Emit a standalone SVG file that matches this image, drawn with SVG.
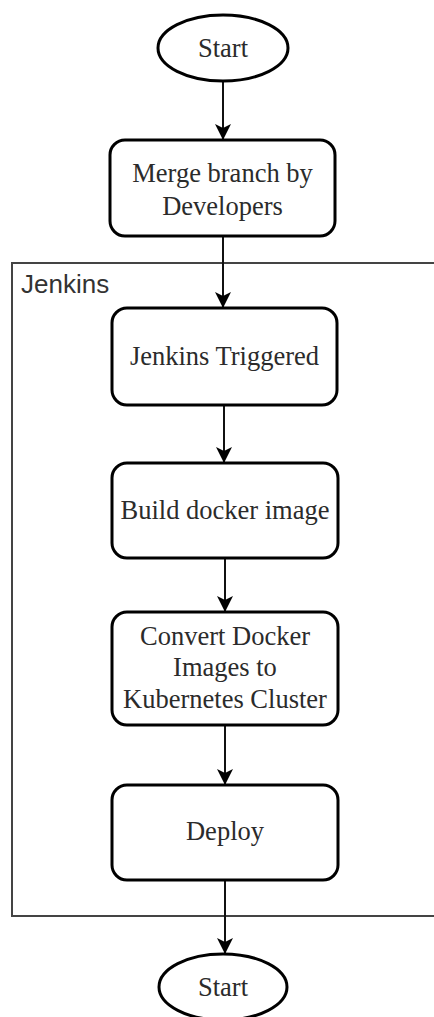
<svg xmlns="http://www.w3.org/2000/svg" width="434" height="1017" viewBox="0 0 434 1017">
<style>
.node{fill:#fff;stroke:#000;stroke-width:3}
.lbl{font-family:"Liberation Serif","Times New Roman",serif;font-size:26.5px;fill:#2b2b2b;text-anchor:middle}
.edge{stroke:#111;stroke-width:2;fill:none;marker-end:url(#arr)}
.grp{fill:none;stroke:#444;stroke-width:2}
.glbl{font-family:"Liberation Sans",Arial,sans-serif;font-size:26px;fill:#333}
</style>
<defs>
<marker id="arr" viewBox="0 0 16 16" refX="16" refY="8" markerWidth="16" markerHeight="16" markerUnits="userSpaceOnUse" orient="auto">
<path d="M0,0 L16,8 L0,16 L4,8 Z" fill="#000"/>
</marker>
</defs>
<rect width="434" height="1017" fill="#fff"/>
<g id="jenkins-group">
<rect class="grp" x="12" y="263" width="440" height="653"/>
<text class="glbl" x="21" y="293">Jenkins</text>
</g>
<g id="connectors">
<line class="edge" x1="223" y1="82" x2="223" y2="140"/>
<line class="edge" x1="223" y1="236" x2="223" y2="308"/>
<line class="edge" x1="224" y1="405" x2="224" y2="463"/>
<line class="edge" x1="225" y1="558" x2="225" y2="612"/>
<line class="edge" x1="225" y1="725" x2="225" y2="785"/>
<line class="edge" x1="225" y1="880" x2="225" y2="954"/>
</g>
<g id="start-top">
<ellipse class="node" cx="223" cy="48" rx="65" ry="33"/>
<text class="lbl" x="223" y="57">Start</text>
</g>
<g id="merge">
<rect class="node" x="110" y="140" width="225" height="96" rx="15"/>
<text class="lbl" x="222.5" y="182">Merge branch by</text>
<text class="lbl" x="222.5" y="215">Developers</text>
</g>
<g id="triggered">
<rect class="node" x="112" y="308" width="225" height="97" rx="15"/>
<text class="lbl" x="224.5" y="365">Jenkins Triggered</text>
</g>
<g id="build">
<rect class="node" x="112" y="463" width="226" height="95" rx="15"/>
<text class="lbl" x="225" y="519">Build docker image</text>
</g>
<g id="convert">
<rect class="node" x="112" y="612" width="226" height="113" rx="15"/>
<text class="lbl" x="225" y="645">Convert Docker</text>
<text class="lbl" x="225" y="676">Images to</text>
<text class="lbl" x="225" y="708">Kubernetes Cluster</text>
</g>
<g id="deploy">
<rect class="node" x="112" y="785" width="226" height="95" rx="15"/>
<text class="lbl" x="225" y="840">Deploy</text>
</g>
<g id="start-bottom">
<ellipse class="node" cx="223" cy="987" rx="64" ry="33"/>
<text class="lbl" x="223" y="996">Start</text>
</g>
</svg>
